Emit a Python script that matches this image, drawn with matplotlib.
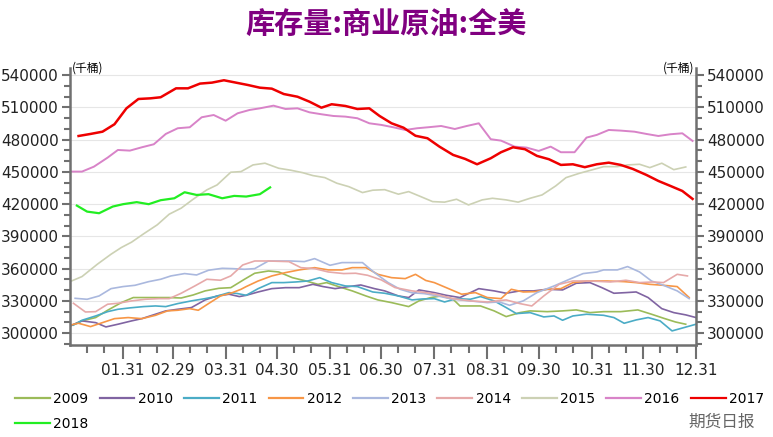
import numpy as np
import matplotlib
matplotlib.use("Agg")
import matplotlib.pyplot as plt
from matplotlib.ticker import FixedLocator, MultipleLocator

# US commercial crude stocks, thousand barrels, x = day of year
years = ["2009", "2010", "2011", "2012", "2013", "2014", "2015", "2016", "2017", "2018"]

d2009 = [0, 7, 15, 22, 30, 37, 45, 52, 58, 65, 72, 79, 87, 94, 102, 108, 116, 122, 130, 138, 145, 150, 157,
         165, 173, 180, 188, 198, 204, 211, 217, 224, 228, 240, 248, 255, 263, 269, 279, 288, 296, 304, 312,
         322, 332, 340, 347, 354, 360]
v2009 = [306500, 311400, 314500, 321300, 328400, 333100, 333100, 333100, 333100, 332700, 335500, 339300,
         341700, 342300, 350100, 355700, 357800, 356900, 351600, 348500, 345400, 347000, 343300, 339300,
         334600, 330900, 328400, 324700, 330000, 333100, 334600, 331500, 325300, 325300, 320700, 315400,
         319100, 320700, 320000, 320700, 321600, 319100, 320000, 320000, 321600, 317600, 313900, 310400, 308300]

d2010 = [0, 7, 15, 21, 28, 36, 42, 48, 56, 63, 71, 79, 86, 93, 99, 103, 110, 118, 126, 134, 142, 148, 155,
         163, 170, 178, 184, 192, 198, 204, 213, 220, 228, 239, 248, 255, 263, 271, 279, 288, 296, 304, 311,
         318, 325, 331, 338, 346, 353, 360, 366]
v2010 = [306700, 311400, 309800, 305800, 308300, 311400, 313500, 316600, 320700, 322200, 323800, 330900,
         334600, 336200, 334000, 335200, 338300, 341400, 342300, 342300, 345400, 343300, 341400, 343300,
         344800, 341400, 339300, 334600, 333100, 340200, 337700, 335200, 333100, 341400, 339300, 337100,
         339300, 339300, 340800, 340200, 346400, 347000, 342300, 337100, 337700, 338300, 333100, 322800,
         319100, 317000, 314500]

d2011 = [2, 7, 15, 22, 28, 35, 43, 50, 56, 63, 71, 79, 85, 93, 98, 103, 110, 118, 125, 132, 139, 146, 153,
         161, 168, 177, 184, 192, 200, 206, 213, 219, 226, 234, 240, 248, 255, 261, 269, 277, 283, 288, 294,
         302, 312, 318, 324, 331, 338, 345, 352, 359, 366]
v2011 = [307500, 312000, 316000, 320000, 322200, 323500, 324700, 325300, 324700, 327500, 330000, 332100,
         334000, 337700, 336800, 335200, 341400, 347000, 347000, 347600, 348500, 351600, 347000, 343900,
         343300, 338300, 337100, 334600, 330900, 331800, 332100, 329000, 332100, 331500, 334000, 330000,
         323800, 318200, 319100, 315100, 316000, 312000, 316000, 317600, 316600, 314500, 309200, 312300,
         314500, 311400, 302100, 305200, 308300]

d2012 = [0, 5, 12, 19, 26, 34, 42, 50, 57, 63, 70, 75, 81, 88, 95, 100, 103, 110, 118, 126, 134, 143, 151,
         159, 165, 173, 180, 188, 196, 202, 208, 213, 220, 229, 237, 244, 252, 258, 265, 272, 279, 287, 294,
         302, 314, 324, 331, 339, 347, 355, 362]
v2012 = [307500, 309200, 306100, 309800, 313500, 314500, 313500, 316600, 320700, 321300, 322800, 321300,
         327500, 334600, 337700, 340800, 343300, 348500, 353200, 356300, 358800, 360900, 358800, 358800,
         360900, 360900, 354700, 351600, 350700, 354700, 349000, 347000, 342300, 336200, 337700, 333100,
         332100, 340800, 338300, 338600, 340800, 341400, 347000, 348500, 348500, 347900, 347000, 345400,
         344500, 343300, 333100]

d2013 = [3, 10, 17, 24, 31, 38, 46, 53, 59, 67, 74, 81, 89, 95, 102, 108, 116, 122, 129, 137, 143, 152, 159,
         166, 171, 178, 186, 193, 200, 207, 215, 224, 234, 244, 251, 257, 265, 273, 283, 292, 300, 308, 312,
         320, 326, 333, 340, 347, 355, 362]
v2013 = [332400, 331500, 334600, 341400, 343300, 344500, 347900, 350100, 353200, 355400, 354100, 358500,
         360300, 360000, 359400, 360000, 367100, 367100, 367100, 366500, 369300, 363100, 365600, 365600,
         365600, 356300, 347000, 340800, 337500, 336800, 334600, 331500, 330000, 328400, 329000, 325900,
         330000, 337700, 343900, 350100, 355400, 356900, 358800, 358800, 361900, 356900, 348500, 344500,
         339300, 332100]

d2014 = [2, 9, 15, 22, 28, 36, 44, 52, 58, 65, 73, 80, 88, 94, 101, 108, 116, 128, 135, 143, 151, 160, 167,
         174, 182, 190, 200, 208, 214, 224, 234, 244, 255, 263, 270, 277, 286, 294, 304, 316, 325, 333, 341,
         347, 355, 361]
v2014 = [327800, 319700, 320000, 326900, 327800, 330000, 331500, 332100, 332100, 337100, 343900, 350100,
         349200, 353200, 363400, 367100, 367100, 366500, 360900, 360000, 356900, 355400, 355700, 353800,
         349500, 342400, 339300, 337700, 336200, 332100, 330000, 329000, 330900, 327500, 325300, 334600,
         345400, 348500, 348500, 347600, 349200, 347000, 347600, 347000, 354700, 353200]

d2015 = [1, 7, 16, 24, 30, 36, 43, 51, 58, 65, 72, 80, 86, 94, 100, 107, 114, 122, 129, 136, 142, 149, 156,
         163, 171, 177, 184, 192, 198, 205, 212, 219, 226, 233, 241, 247, 255, 262, 269, 276, 284, 290, 298,
         305, 312, 320, 326, 333, 339, 346, 353, 360]
v2015 = [348600, 352600, 364100, 373400, 379600, 384600, 392300, 400700, 410600, 416200, 424500, 433200,
         437800, 449600, 450200, 456400, 458000, 453300, 451500, 449200, 446500, 444600, 439400, 436200,
         430700, 432900, 433400, 429200, 431600, 427000, 422300, 421800, 424500, 419200, 423900, 425400,
         423900, 421800, 425400, 428500, 436900, 444600, 448700, 451700, 454800, 454800, 456400, 457000,
         453900, 458000, 452000, 454500]

d2016 = [0, 7, 14, 22, 28, 35, 42, 49, 56, 63, 70, 77, 84, 91, 98, 105, 111, 119, 126, 133, 140, 147, 154,
         161, 168, 175, 182, 189, 196, 203, 210, 217, 225, 232, 239, 246, 252, 260, 267, 274, 281, 287, 295,
         302, 308, 315, 322, 330, 337, 344, 351, 358, 364]
v2016 = [450200, 450200, 454800, 463200, 470300, 469700, 472800, 475600, 485200, 490500, 491400, 500700,
         502800, 497500, 504400, 507500, 509000, 511500, 508400, 509000, 505300, 503500, 501900, 501300,
         499800, 495100, 493600, 491400, 488900, 490500, 491500, 492600, 489800, 492600, 495100, 480300,
         479000, 473400, 472500, 469400, 473400, 468200, 468200, 481800, 484300, 488900, 488300, 487300,
         485200, 483300, 484900, 485800, 478700]

d2017 = [5, 12, 19, 26, 33, 40, 47, 53, 62, 69, 76, 83, 90, 97, 104, 111, 118, 125, 133, 140, 147, 153, 161,
         168, 175, 181, 188, 195, 202, 209, 216, 224, 231, 238, 246, 252, 259, 266, 273, 280, 287, 294, 301,
         308, 315, 322, 329, 337, 344, 351, 358, 364]
v2017 = [483300, 485200, 487300, 494200, 509000, 517700, 518300, 519300, 527600, 527600, 532000, 532900,
         535100, 532900, 530700, 528200, 527300, 522300, 519800, 515200, 509600, 512800, 511200, 508400,
         509000, 501900, 495100, 491000, 483500, 481200, 473400, 465700, 462000, 457000, 462600, 468200,
         472800, 471000, 464800, 461700, 456400, 457000, 454300, 457000, 458500, 456400, 452700, 447100,
         441500, 436900, 432200, 424800]

d2018 = [4, 10, 17, 25, 31, 39, 46, 53, 61, 67, 74, 81, 89, 96, 103, 111, 117]
v2018 = [418600, 413000, 411500, 417700, 419900, 421800, 419900, 423600, 425400, 431000, 428500, 429200,
         425400, 427600, 427000, 429200, 435500]

month_end_days = [31, 60, 91, 121, 152, 182, 213, 244, 274, 305, 335, 366]
month_labels = ["01.31", "02.29", "03.31", "04.30", "05.31", "06.30",
                "07.31", "08.31", "09.30", "10.31", "11.30", "12.31"]

series = [
    (d2009, v2009, "#9BBB59", 1.2),
    (d2010, v2010, "#8064A2", 1.2),
    (d2011, v2011, "#4BACC6", 1.2),
    (d2012, v2012, "#F79646", 1.2),
    (d2013, v2013, "#AAB8DE", 1.2),
    (d2014, v2014, "#E6A9A9", 1.2),
    (d2015, v2015, "#CCD1B4", 1.2),
    (d2016, v2016, "#D883C8", 1.4),
    (d2017, v2017, "#EE0000", 1.8),
    (d2018, v2018, "#22EE22", 1.6),
]

fig = plt.figure(figsize=(7.73, 4.37), dpi=100)
ax = fig.add_axes([70 / 773, 1 - 345 / 437, 626 / 773, (345 - 68) / 437])

for (d, v, c, lw), name in zip(series, years):
    ax.plot(d, v, color=c, linewidth=lw, label=name)

ax.set_xlim(0, 366)
ax.set_ylim(289000, 546500)

axis_grey = "#707070"
ax.xaxis.set_major_locator(FixedLocator(month_end_days))
minor_days = []
starts = [0] + month_end_days[:-1]
for s in starts:
    minor_days += [s + 10, s + 20]
ax.xaxis.set_minor_locator(FixedLocator(minor_days))
ax.set_xticklabels(month_labels, fontsize=11, color="#222222")

ax.yaxis.set_major_locator(MultipleLocator(30000))
ax.yaxis.set_minor_locator(MultipleLocator(10000))
ax.grid(axis="y", which="major", color="#E6E6E6", linewidth=0.8)
ax.set_axisbelow(True)

ax2 = ax.twinx()
ax2.set_ylim(ax.get_ylim())
ax2.yaxis.set_major_locator(MultipleLocator(30000))
ax2.yaxis.set_minor_locator(MultipleLocator(10000))

for a in (ax, ax2):
    a.spines["top"].set_visible(False)
    for s in ("left", "right", "bottom"):
        a.spines[s].set_color(axis_grey)
        a.spines[s].set_linewidth(1.8)
    a.tick_params(axis="both", which="major", direction="out", length=6, width=1.5,
                  color=axis_grey, labelsize=11, labelcolor="#222222", pad=2)
    a.tick_params(axis="both", which="minor", direction="out", length=4, width=1.5, color=axis_grey)
    a.yaxis.set_major_formatter(matplotlib.ticker.FuncFormatter(lambda x, p: f"{int(x)}"))
ax.tick_params(axis="x", which="major", length=10, pad=3)
ax.tick_params(axis="x", which="minor", length=6)

ax.spines["right"].set_visible(False)
ax2.spines["left"].set_visible(False)
ax2.spines["bottom"].set_visible(False)

cjk = ["Noto Sans CJK SC", "DejaVu Sans"]
fig.text(0.5, 1 - 25 / 437, "库存量:商业原油:全美", ha="center", va="center",
         fontsize=21, fontweight="bold", color="#800080", family=cjk)
fig.text(72 / 773, 1 - 68 / 437, "(千桶)", ha="left", va="center", fontsize=8.5, family=cjk)
fig.text(694 / 773, 1 - 68 / 437, "(千桶)", ha="right", va="center", fontsize=8.5, family=cjk)

# legend fills column-first: put 2018 right after 2009 so it lands on row two
handles, labels = ax.get_legend_handles_labels()
order = [0, 9, 1, 2, 3, 4, 5, 6, 7, 8]
handles = [handles[i] for i in order]
labels = [labels[i] for i in order]
leg = fig.legend(handles, labels, loc="upper left", bbox_to_anchor=(15 / 773, 1 - 392 / 437),
                 ncol=9, frameon=False, fontsize=10, handlelength=2.5, handletextpad=0.25,
                 columnspacing=0.8, borderpad=0, borderaxespad=0, labelspacing=0.8)
for line in leg.get_lines():
    line.set_linewidth(1.6)

fig.text(722 / 773, 1 - 422 / 437, "期货日报", ha="center", va="center", fontsize=12,
         color="#666666", family=cjk)

fig.savefig("out.png", dpi=100)
